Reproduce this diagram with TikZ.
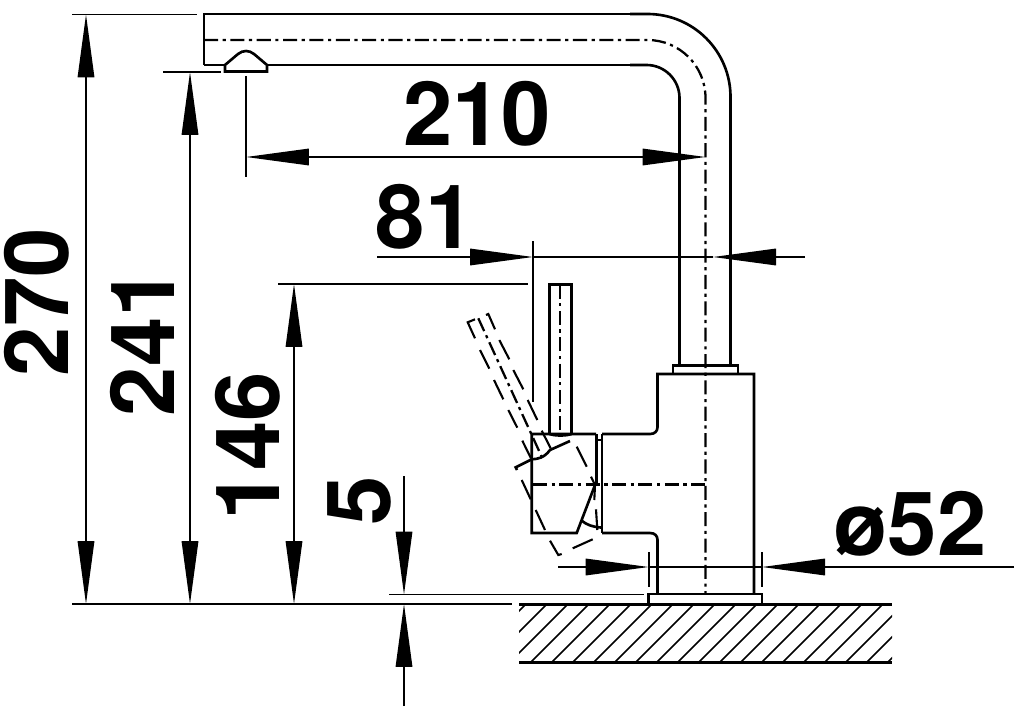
\documentclass[tikz,border=0pt]{standalone}
\usepackage{fontspec}
\setmainfont{TeX Gyre Heros}
\usetikzlibrary{arrows.meta}
\tikzset{
  outline/.style={line width=1.5pt},
  thinline/.style={line width=0.95pt},
  centerline/.style={line width=1.3pt, dash pattern=on 8pt off 2.6pt on 1.8pt off 2.6pt},
  swungline/.style={line width=1.2pt},
  dimline/.style={thinline, -{Triangle[length=1.26cm,width=0.33cm]}},
  dimlabel/.style={inner sep=0pt, font=\fontsize{50.5}{50.5}\selectfont\bfseries}
}
\begin{document}
\begin{tikzpicture}[x=0.02cm, y=-0.02cm]
    \useasboundingbox (0,0) rectangle (1023,716);
    % Spout, with its bend
    \draw[outline] (204,65) -- (204,14) -- (640,14);
    \draw[outline] (204,65) -- (225,65);
    \draw[outline] (267,65) -- (640,65);
    \draw[outline, rounded corners=1.66cm] (630,14) -- (730.5,14) -- (730.5,365);
    \draw[outline, rounded corners=0.66cm] (630,65) -- (679.5,65) -- (679.5,365);
    \draw[centerline, rounded corners=1.16cm] (204,40) -- (705.5,40) -- (705.5,593);
    % Aerator
    \draw[outline] (225,65) -- (225,71.5) -- (267,71.5) -- (267,65) -- (254,54) .. controls (249,50) and (243,50) .. (238,54) -- cycle;
    % Flange and main body
    \draw[outline] (673,374) -- (673,365.5) -- (738,365.5) -- (738,374);
    \draw[outline] (602,434) -- (650,434) .. controls (655,434) and (657.5,431) .. (657.5,427) -- (657.5,374) -- (754,374) -- (754,593);
    \draw[outline] (602,533) -- (650,533) .. controls (655,533) and (657.5,536) .. (657.5,540) -- (657.5,593);
    % Base plate
    \draw[outline] (648.7,604) -- (648.7,594) -- (762,594) -- (762,604);
    % Handle
    \draw[outline] (549.5,434) -- (549.5,284.5) -- (571.5,284.5) -- (571.5,434);
    \draw[centerline] (560,284.5) -- (560,434);
    % Lever housing
    \draw[outline] (596,434) -- (531.7,434) -- (531.7,533) -- (576.7,533) -- (595,485);
    \draw[outline] (596.5,434) -- (596.5,485);
    \draw[outline] (602,434) -- (602,533);
    \draw[outline] (596.5,440) -- (602,440);
    \draw[outline] (597,527) -- (602,527);
    \draw[outline] (549.5,434) .. controls (555,436) and (566,436) .. (571.5,434);
    \draw[centerline] (533,484.5) -- (705.5,484.5);
    % Lever in its swung position
    \draw[swungline] (475,319.3) -- (467.7,322.3) -- (475,338.3) (480,350) -- (489.3,368.7) (494,380) -- (503.3,399.3) (508.3,410) -- (517.3,427.7) (522.3,440.7) -- (531,458.3);
    \draw[swungline] (486,315) -- (488.3,314) -- (495,329.3) (499.3,340) -- (509.3,359.3) (513.3,370) -- (523.3,389.3) (527.7,400) -- (537.3,420) (541.7,430.7) -- (550.7,448.3);
    \draw[centerline] (478.3,318.3) -- (541.7,456.7);
    \draw[outline] (517,470) -- (515.7,467.3) -- (531.7,459.3) .. controls (538,459) and (544,458) .. (550,450) -- (570,441);
    \draw[swungline] (521.7,480) -- (530.7,499.3) (535.7,510) -- (545,530) (550,540.7) -- (558.3,555) -- (561.7,554) (572.7,548.3) -- (592.7,539.3);
    \draw[swungline] (576.7,446.7) -- (586.7,466.7) (591,476.7) -- (595,485) -- (594.3,500) (596,509.3) -- (597.3,530);
    \draw[outline] (581.7,520.7) .. controls (587,525) and (593,527) .. (601,527.5);
    % Worktop
    \begin{scope}
      \clip (519,604) rectangle (892,663);
      \foreach \hatchx in {467,488,...,892}
        \draw[thinline] (\hatchx,663) -- (\hatchx+59,604);
    \end{scope}
    \draw[outline] (519,604.5) -- (892,604.5);
    \draw[outline] (519,662.5) -- (892,662.5);
    % Extension lines
    \draw[thinline] (72,14.5) -- (197,14.5);
    \draw[thinline] (163,72) -- (221,72);
    \draw[thinline] (246,76) -- (246,177);
    \draw[thinline] (278,284) -- (528,284);
    \draw[thinline] (533,241) -- (533,402);
    \draw[outline] (72,604) -- (512,604);
    \draw[thinline] (389,594.5) -- (644,594.5);
    \draw[thinline] (648.7,552) -- (648.7,587);
    \draw[thinline] (762,552) -- (762,587);
    % Dimension anchors
    \coordinate (h270) at (86,327);
    \coordinate (h241) at (190,338);
    \coordinate (h146) at (294,444);
    \coordinate (w210) at (476,157);
    \coordinate (w81) at (623,257);
    \coordinate (w52) at (705,567);
    % Dimension arrows
    \draw[dimline] (h270) -- (86,14.5);
    \draw[dimline] (h270) -- (86,604);
    \draw[dimline] (h241) -- (190,72);
    \draw[dimline] (h241) -- (190,604);
    \draw[dimline] (h146) -- (294,284);
    \draw[dimline] (h146) -- (294,604);
    \draw[dimline] (w210) -- (246,157);
    \draw[dimline] (w210) -- (705.5,157);
    \draw[dimline] (377,257) -- (533,257);
    \draw[dimline] (805,257) -- (713,257);
    \draw[thinline] (533,257) -- (w81) -- (713,257);
    \draw[dimline] (558,567) -- (648.7,567);
    \draw[dimline] (1014,567) -- (762,567);
    \draw[thinline] (648.7,567) -- (w52) -- (762,567);
    \draw[dimline] (404,476) -- (404,594.5);
    \draw[dimline] (404,706) -- (404,604);
    % Dimension labels
    \node[dimlabel] (lab210) at (477,114) {210};
    \node[dimlabel] (lab81) at (425,217) {81};
    \node[dimlabel, rotate=90] (lab270) at (37,302) {270};
    \node[dimlabel, rotate=90] (lab241) at (142,342) {241};
    \node[dimlabel, rotate=90] (lab146) at (248,446) {146};
    \node[dimlabel, rotate=90] (lab5) at (359,501) {5};
    \node[dimlabel] (lab52) at (910,524) {ø52};
\end{tikzpicture}
\end{document}
